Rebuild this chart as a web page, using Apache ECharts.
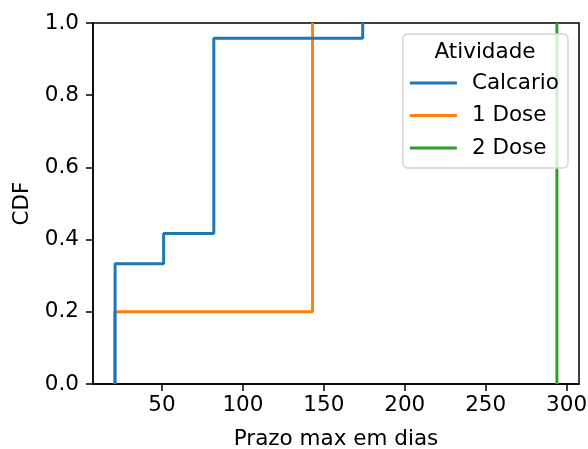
<!DOCTYPE html>
<html>
<head>
<meta charset="utf-8">
<script src="https://cdn.jsdelivr.net/npm/echarts@6/dist/echarts.min.js"></script>
<style>
  html, body { margin: 0; padding: 0; background: #fff; }
  #chart { width: 588px; height: 449px; }
</style>
</head>
<body>
<div id="chart"></div>
<script>
// ECDF steps: x where the step happens, cdf after it
const calcarioX = [21, 51, 82, 174];
const calcarioCdf = [0.333, 0.417, 0.958, 1.0];
const dose1X = [20.8, 143];
const dose1Cdf = [0.2, 1.0];
const dose2X = [294];
const dose2Cdf = [1.0];

const xTicks = [50, 100, 150, 200, 250, 300];
const yTicks = [0, 0.2, 0.4, 0.6, 0.8, 1.0];

const font = "DejaVu Sans";
const fs = 21.5;

// steps-post line starting from 0 at the first x
function steps(xs, ys) {
  const pts = [[xs[0], 0]];
  xs.forEach((x, i) => pts.push([x, ys[i]]));
  return pts;
}

const chart = echarts.init(document.getElementById("chart"));
chart.setOption({
  animation: false,
  grid: {
    left: 93,
    right: 9,
    top: 23,
    bottom: 65,
    show: true,
    borderColor: "#000",
    borderWidth: 1.5,
    containLabel: false,
    outerBoundsMode: "none",
  },
  xAxis: {
    type: "value",
    min: 7.35,
    max: 307.65,
    name: "Prazo max em dias",
    nameLocation: "middle",
    nameGap: 44,
    nameTextStyle: { fontFamily: font, fontSize: fs, color: "#000" },
    axisLine: { show: true, lineStyle: { color: "#000", width: 1.5 } },
    axisTick: {
      show: true,
      inside: false,
      length: 7,
      customValues: xTicks,
      lineStyle: { color: "#000", width: 1.5 },
    },
    axisLabel: {
      customValues: xTicks,
      margin: 10,
      fontFamily: font,
      fontSize: fs,
      color: "#000",
    },
    splitLine: { show: false },
  },
  yAxis: {
    type: "value",
    min: 0,
    max: 1,
    interval: 0.2,
    name: "CDF",
    nameLocation: "middle",
    nameGap: 56,
    nameTextStyle: { fontFamily: font, fontSize: fs, color: "#000" },
    axisLine: { show: true, lineStyle: { color: "#000", width: 1.5 } },
    axisTick: { show: true, length: 7, lineStyle: { color: "#000", width: 1.5 } },
    axisLabel: {
      margin: 14,
      fontFamily: font,
      fontSize: fs,
      color: "#000",
      formatter: (v) => (yTicks.includes(+v.toFixed(1)) ? v.toFixed(1) : ""),
    },
    splitLine: { show: false },
  },
  legend: {
    orient: "vertical",
    right: 20,
    top: 34,
    padding: [38, 9, 9, 7],
    itemGap: 10.5,
    itemWidth: 47,
    itemHeight: 3,
    icon: "rect",
    backgroundColor: "rgba(255,255,255,0.8)",
    borderColor: "#d4d4d4",
    borderWidth: 1.5,
    borderRadius: 5,
    data: ["Calcario", "1 Dose", "2 Dose"],
    textStyle: {
      fontFamily: font,
      fontSize: fs,
      color: "#000",
      lineHeight: fs,
      padding: [0, 0, 0, 10],
    },
  },
  graphic: [
    {
      type: "text",
      x: 485,
      y: 52,
      z: 100,
      style: {
        text: "Atividade",
        fontFamily: font,
        fontSize: fs,
        fill: "#000",
        align: "center",
        verticalAlign: "middle",
      },
    },
  ],
  series: [
    {
      name: "2 Dose",
      type: "line",
      step: "end",
      symbol: "none",
      color: "#2ca02c",
      lineStyle: { width: 3 },
      data: steps(dose2X, dose2Cdf),
    },
    {
      name: "1 Dose",
      type: "line",
      step: "end",
      symbol: "none",
      color: "#ff7f0e",
      lineStyle: { width: 3 },
      data: steps(dose1X, dose1Cdf),
    },
    {
      name: "Calcario",
      type: "line",
      step: "end",
      symbol: "none",
      color: "#1f77b4",
      lineStyle: { width: 3 },
      data: steps(calcarioX, calcarioCdf),
    },
  ],
});
</script>
</body>
</html>
